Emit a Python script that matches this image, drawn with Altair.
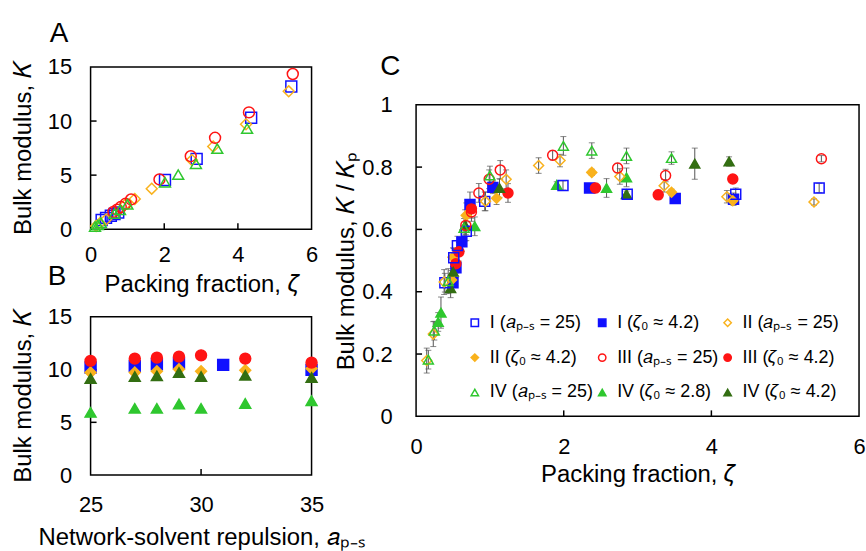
import altair as alt
import pandas as pd

FONT = "Liberation Sans"

BLUE = "#1010ff"
ORANGE = "#f9b21d"
RED = "#ff1414"
GREEN = "#2fc72f"
DKGREEN = "#336e12"

SERIES = [
    "I (𝑎ₚ₋ₛ = 25)", "I (𝜁₀ ≈ 4.2)", "II (𝑎ₚ₋ₛ = 25)",
    "II (𝜁₀ ≈ 4.2)", "III (𝑎ₚ₋ₛ = 25)", "III (𝜁₀ ≈ 4.2)",
    "IV (𝑎ₚ₋ₛ = 25)", "IV (𝜁₀ ≈ 2.8)", "IV (𝜁₀ ≈ 4.2)",
]
SHAPES = ["square", "square", "diamond", "diamond", "circle", "circle",
          "triangle-up", "triangle-up", "triangle-up"]
STROKES = [BLUE, BLUE, ORANGE, ORANGE, RED, RED, GREEN, GREEN, DKGREEN]
FILLS = ["transparent", BLUE, "transparent", ORANGE, "transparent", RED,
         "transparent", GREEN, DKGREEN]

# ---------------- Panel A : K vs packing fraction (open series) ----------------
A_I_x = [0.30, 0.42, 0.55, 0.65, 0.75, 2.02, 2.88, 4.36, 5.45]
A_I_y = [0.85, 1.05, 1.25, 1.40, 1.55, 4.55, 6.50, 10.3, 13.2]
A_II_x = [0.15, 0.25, 0.42, 0.95, 1.20, 1.66, 2.75, 3.33, 4.22, 5.38]
A_II_y = [0.30, 0.55, 0.90, 2.30, 2.80, 3.75, 6.40, 7.65, 9.70, 12.75]
A_III_x = [0.62, 0.72, 0.82, 0.95, 1.10, 1.87, 2.72, 3.38, 4.30, 5.49]
A_III_y = [1.60, 1.80, 2.05, 2.35, 2.75, 4.60, 6.75, 8.45, 10.8, 14.35]
A_IV_x = [0.12, 0.20, 0.28, 0.65, 0.80, 1.00, 2.02, 2.38, 2.86, 3.44, 4.25]
A_IV_y = [0.25, 0.40, 0.60, 1.45, 1.80, 2.30, 4.35, 5.05, 6.05, 7.45, 9.30]

# ---------------- Panel B : K vs a_P-S (filled series) ----------------
B_a = [25, 27, 28, 29, 30, 32, 35]
B_I_a = [25, 27, 28, 29, 31, 35]
B_I_y = [10.19, 10.35, 10.50, 10.60, 10.44, 9.97]
B_II_y = [9.72, 9.72, 9.84, 10.03, 9.84, 9.93, 10.10]
B_III_y = [10.82, 11.04, 11.13, 11.23, 11.35, 11.04, 10.66]
B_IV42_y = [9.15, 9.34, 9.40, 9.72, 9.34, 9.46, 9.25]
B_IV28_y = [5.94, 6.32, 6.32, 6.73, 6.32, 6.79, 7.05]

# ---------------- Panel C : K/K_P vs packing fraction ----------------
C_I_open_x = [0.39, 0.51, 0.56, 0.68, 0.93, 1.99, 2.86, 4.33, 5.46]
C_I_open_y = [0.429, 0.509, 0.548, 0.594, 0.690, 0.741, 0.713, 0.713, 0.733]
C_I_open_e = [0.03, 0.03, 0.03, 0.03, 0.03, 0.015, 0.015, 0.02, 0.015]
C_I_fill_x = [0.50, 0.54, 0.62, 0.73, 1.04, 2.35, 3.51, 4.30]
C_I_fill_y = [0.429, 0.477, 0.560, 0.680, 0.735, 0.733, 0.699, 0.697]
C_I_fill_e = [0.03, 0.03, 0.03, 0.04, 0.02, 0.01, 0.01, 0.02]
C_II_open_x = [0.144, 0.233, 0.38, 0.94, 1.22, 1.66, 1.95, 2.76, 3.36, 4.21, 5.39]
C_II_open_y = [0.179, 0.264, 0.431, 0.690, 0.761, 0.805, 0.821, 0.770, 0.740, 0.705, 0.688]
C_II_open_e = [0.04, 0.04, 0.04, 0.03, 0.03, 0.025, 0.02, 0.025, 0.02, 0.02, 0.01]
C_II_fill_x = [0.48, 0.50, 0.68, 1.09, 2.38, 3.46, 4.29]
C_II_fill_y = [0.438, 0.511, 0.645, 0.700, 0.783, 0.719, 0.692]
C_II_fill_e = [0.03, 0.03, 0.04, 0.02, 0.01, 0.01, 0.01]
C_III_open_x = [0.674, 0.75, 0.85, 0.99, 1.14, 1.85, 2.73, 3.38, 5.49]
C_III_open_y = [0.613, 0.656, 0.717, 0.761, 0.791, 0.838, 0.797, 0.773, 0.827]
C_III_open_e = [0.03, 0.03, 0.03, 0.03, 0.03, 0.015, 0.015, 0.02, 0.01]
C_III_fill_x = [0.539, 0.58, 0.75, 1.245, 2.43, 3.28, 4.29]
C_III_fill_y = [0.490, 0.528, 0.666, 0.717, 0.733, 0.711, 0.762]
C_III_fill_e = [0.03, 0.03, 0.03, 0.03, 0.015, 0.015, 0.01]
C_IV_open_x = [0.166, 0.247, 0.435, 0.65, 1.00, 1.995, 2.38, 2.85, 3.46]
C_IV_open_y = [0.182, 0.275, 0.434, 0.605, 0.773, 0.868, 0.853, 0.836, 0.829]
C_IV_open_e = [0.03, 0.03, 0.04, 0.03, 0.03, 0.03, 0.025, 0.025, 0.02]
C_IV28_x = [0.30, 0.337, 0.795, 1.905, 2.58, 2.85]
C_IV28_y = [0.303, 0.333, 0.610, 0.743, 0.733, 0.767]
C_IV28_e = [0.03, 0.05, 0.03, 0.01, 0.03, 0.03]
C_IV42_x = [0.468, 0.503, 0.665, 1.13, 2.85, 3.775, 4.24]
C_IV42_y = [0.411, 0.464, 0.613, 0.733, 0.713, 0.811, 0.818]
C_IV42_e = [0.03, 0.03, 0.05, 0.03, 0.01, 0.05, 0.015]


def frame(series, xs, ys, es=None):
    rows = []
    for k, (s, x, y) in enumerate(zip(series, xs, ys)):
        e = es[k] if es else None
        for i in range(len(x)):
            r = {"series": SERIES[s], "x": x[i], "y": y[i]}
            if e is not None:
                r["lo"] = y[i] - e[i]
                r["hi"] = y[i] + e[i]
            rows.append(r)
    return pd.DataFrame(rows)


dfA = frame([0, 2, 4, 6], [A_I_x, A_II_x, A_III_x, A_IV_x], [A_I_y, A_II_y, A_III_y, A_IV_y])
dfB = frame([1, 3, 5, 8, 7], [B_I_a, B_a, B_a, B_a, B_a],
            [B_I_y, B_II_y, B_III_y, B_IV42_y, B_IV28_y])
dfC = frame([1, 3, 5, 7, 8, 0, 2, 4, 6],
            [C_I_fill_x, C_II_fill_x, C_III_fill_x, C_IV28_x, C_IV42_x,
             C_I_open_x, C_II_open_x, C_III_open_x, C_IV_open_x],
            [C_I_fill_y, C_II_fill_y, C_III_fill_y, C_IV28_y, C_IV42_y,
             C_I_open_y, C_II_open_y, C_III_open_y, C_IV_open_y],
            [C_I_fill_e, C_II_fill_e, C_III_fill_e, C_IV28_e, C_IV42_e,
             C_I_open_e, C_II_open_e, C_III_open_e, C_IV_open_e])


def axis(values, title, lpad, tpad, fmt=None):
    kw = dict(values=values, title=title, ticks=False, tickSize=0, domain=False, grid=False,
              labelPadding=lpad, titlePadding=tpad, labelFlush=False, labelOverlap=False,
              labelFontSize=22, titleFontSize=24, labelColor="black", titleColor="black",
              titleFontWeight="normal", labelFont=FONT, titleFont=FONT)
    if fmt:
        kw["format"] = fmt
    return alt.Axis(**kw)


def enc_scales(legend):
    return dict(
        shape=alt.Shape("series:N", scale=alt.Scale(domain=SERIES, range=SHAPES), legend=legend),
        stroke=alt.Stroke("series:N", scale=alt.Scale(domain=SERIES, range=STROKES), legend=legend),
        fill=alt.Fill("series:N", scale=alt.Scale(domain=SERIES, range=FILLS), legend=legend),
    )


def panel(df, xdom, ydom, xin, yin, xaxis, yaxis, W, H, size, legend, label, ldx, loff,
          errors=False):
    xs = alt.Scale(domain=xdom, nice=False, zero=False)
    ys = alt.Scale(domain=ydom, nice=False, zero=False)

    def X(f):
        return alt.X(f, type="quantitative", scale=xs, axis=xaxis)

    def Y(f):
        return alt.Y(f, type="quantitative", scale=ys, axis=yaxis)

    layers = []
    tx = alt.Chart(pd.DataFrame({"v": xin})).mark_rule(color="black", strokeWidth=1.5).encode(
        x=X("v"), y=alt.value(H), y2=alt.value(H - 6))
    ty = alt.Chart(pd.DataFrame({"v": yin})).mark_rule(color="black", strokeWidth=1.5).encode(
        y=Y("v"), x=alt.value(0), x2=alt.value(6))
    layers += [tx, ty]
    if errors:
        base = alt.Chart(df)
        layers.append(base.mark_rule(color="#555555", strokeWidth=1).encode(
            x=X("x"), y=Y("lo"), y2="hi"))
        layers.append(base.mark_tick(color="#555555", orient="horizontal", size=6,
                                     thickness=1).encode(x=X("x"), y=Y("lo")))
        layers.append(base.mark_tick(color="#555555", orient="horizontal", size=6,
                                     thickness=1).encode(x=X("x"), y=Y("hi")))
    pts = alt.Chart(df).mark_point(strokeWidth=1.5, opacity=1).encode(
        x=X("x"), y=Y("y"), size=alt.value(size), **enc_scales(legend))
    layers.append(pts)
    return alt.layer(*layers).properties(
        width=W, height=H,
        title=alt.TitleParams(label, anchor="start", frame="group", dx=ldx, offset=loff,
                              baseline="alphabetic", fontSize=28, fontWeight="normal",
                              font=FONT, color="black"),
    )


A = panel(dfA, [0, 6], [0, 15], [2, 4], [5, 10],
          axis([0, 2, 4, 6], "Packing fraction, 𝜁", 15, 8),
          axis([0, 5, 10, 15], "Bulk modulus, 𝐾", 19, 12),
          222, 163, 120, None, "A", -41, -14)

B = panel(dfB, [25, 35], [0, 15], [30], [5, 10],
          axis([25, 30, 35], "Network-solvent repulsion, 𝑎ₚ₋ₛ", 20, 10),
          axis([0, 5, 10, 15], "Bulk modulus, 𝐾", 19, 12),
          222, 159, 120, None, "B", -43, -7)

legC = alt.Legend(orient="none", legendX=50, legendY=210, columns=3, direction="horizontal",
                  title=None, labelFontSize=18, labelFont=FONT, labelColor="black",
                  symbolSize=55, symbolStrokeWidth=1.5, rowPadding=17, columnPadding=-7,
                  labelOffset=6, labelLimit=300)

C = panel(dfC, [0, 6], [0, 1], [2, 4], [0.2, 0.4, 0.6, 0.8],
          axis([0, 2, 4, 6], "Packing fraction, 𝜁", 20, 5),
          axis([0, 0.2, 0.4, 0.6, 0.8, 1], "Bulk modulus, 𝐾 / 𝐾ₚ", 24, 3, ".1~f"),
          445, 313, 100, legC, "C", -36, -9, errors=True)

spacer = alt.Chart(pd.DataFrame({"v": [0]})).mark_point(opacity=0).encode(
    x=alt.X("v:Q", axis=None), y=alt.Y("v:Q", axis=None)
).properties(width=10, height=1, view=alt.ViewBackground(strokeOpacity=0))

left = alt.vconcat(A, B, spacing=-36).resolve_scale(
    shape="independent", fill="independent", stroke="independent")
right = alt.vconcat(spacer, C, spacing=-19).resolve_scale(
    shape="independent", fill="independent", stroke="independent")

chart = alt.hconcat(left, right, spacing=-32).resolve_scale(
    shape="independent", fill="independent", stroke="independent"
).properties(
    padding={"left": 10, "top": 18, "right": 0, "bottom": 0}
).configure(font=FONT).configure_view(stroke="black", strokeWidth=1.5)

chart.save("out.html", embed_options={"renderer": "svg", "actions": False})
